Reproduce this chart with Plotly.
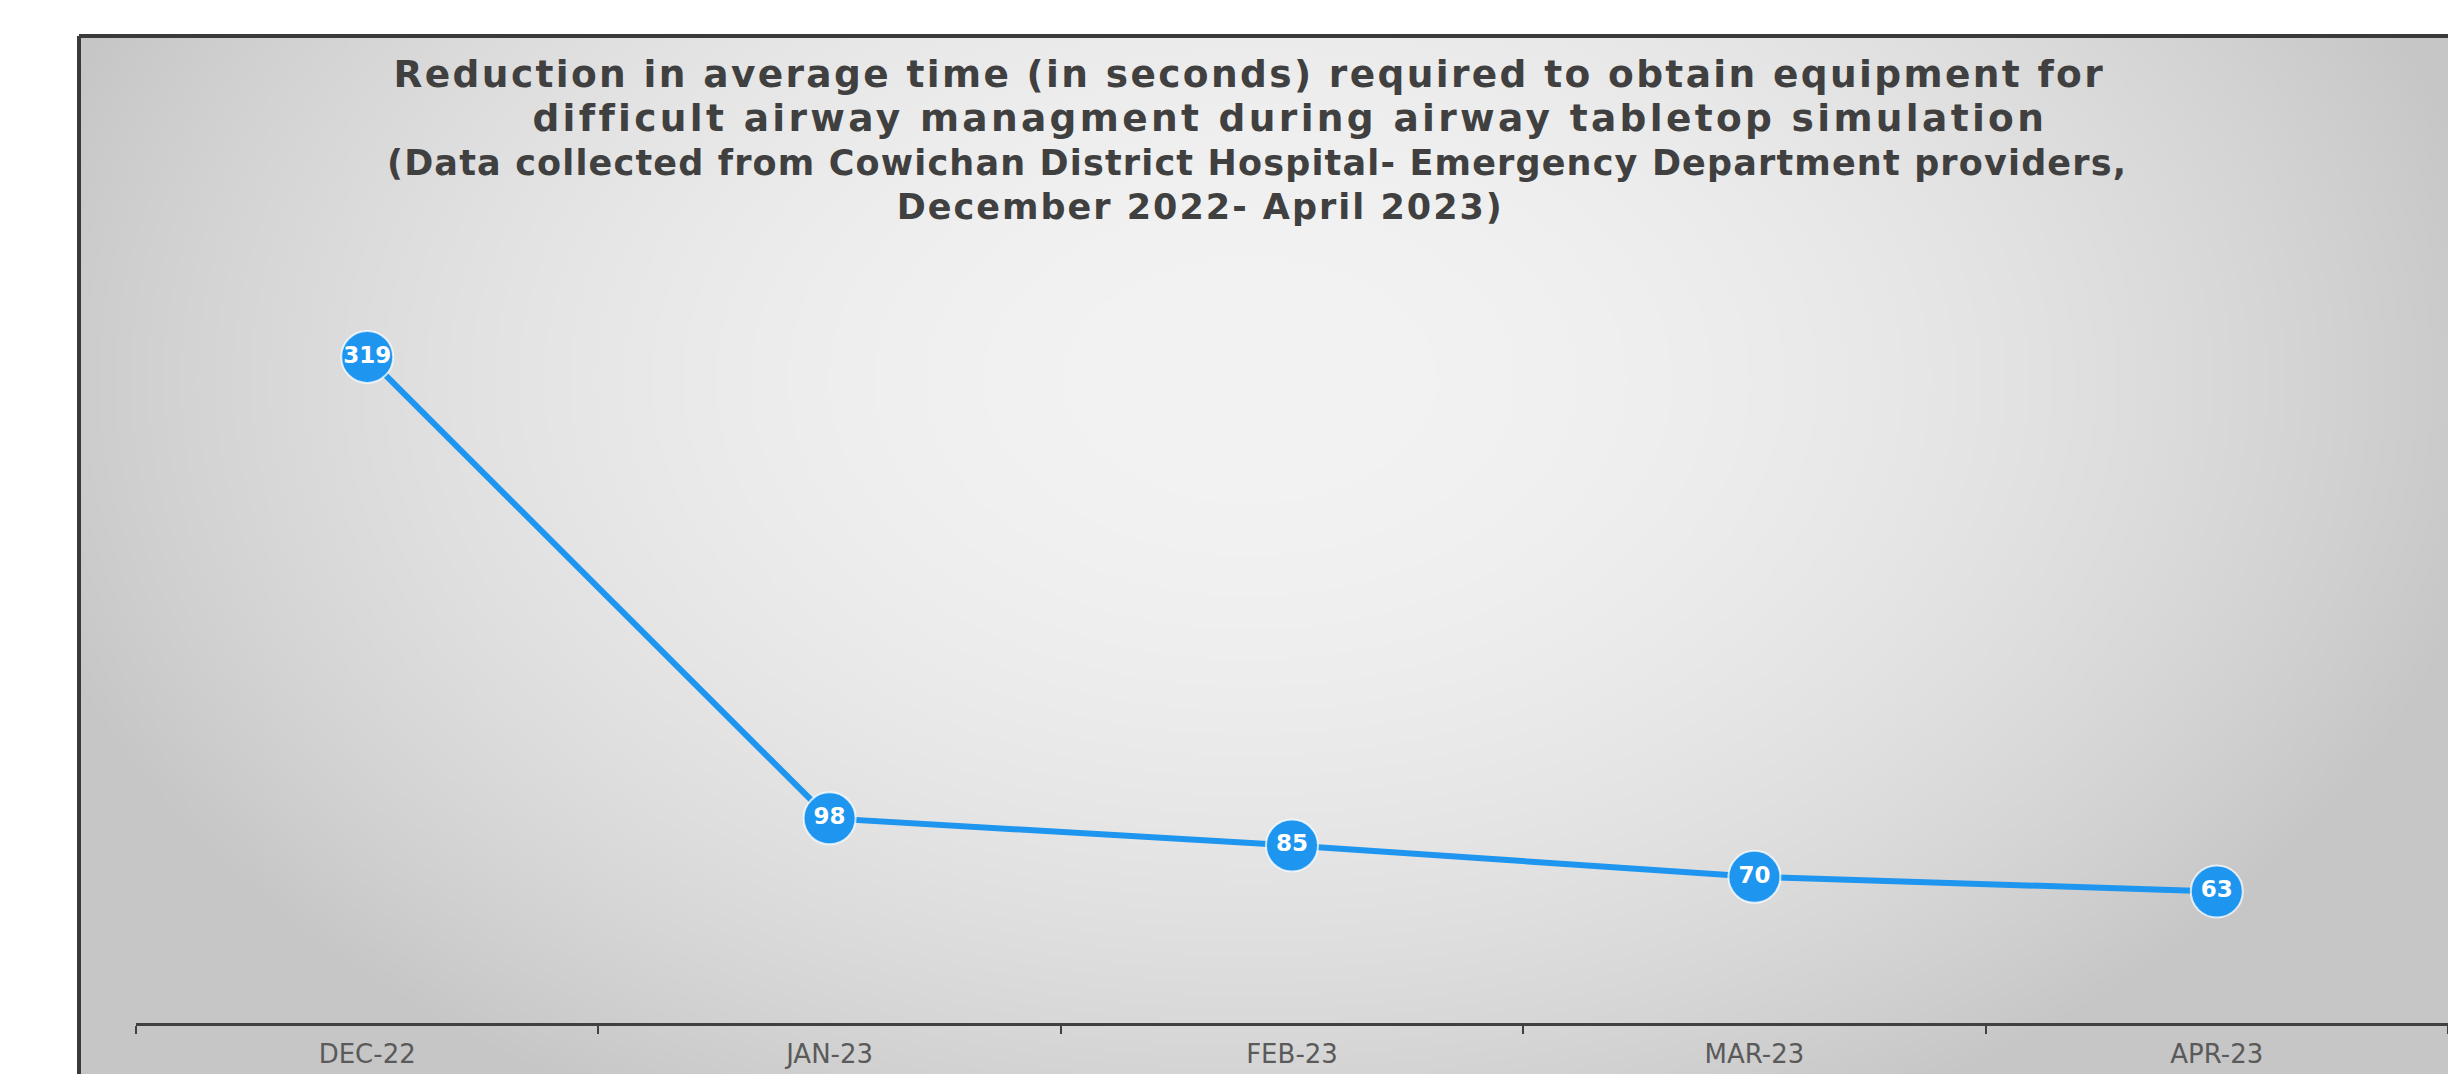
import base64
import struct
import zlib

import numpy as np
import plotly.graph_objects as go

# ---------------- data ----------------
months = ["DEC-22", "JAN-23", "FEB-23", "MAR-23", "APR-23"]
avg_seconds = [319, 98, 85, 70, 63]
title_lines = [
    "Reduction in average time (in seconds) required to obtain equipment for",
    "difficult airway managment during airway tabletop simulation",
    "(Data collected from Cowichan District Hospital- Emergency Department providers,",
    "December 2022- April 2023)",
]

# ---------------- geometry ----------------
W, H = 2448, 1074
L, R, T, B = 136, 0, 288, 51
pw, ph = W - L - R, H - T - B


def px_x(px):
    return (px - L) / pw


def px_y(py):
    return (H - B - py) / ph


# ---------------- gradient background (radial grey) ----------------
def png_data_uri(arr):
    h, w, _ = arr.shape
    raw = b"".join(b"\x00" + arr[i].tobytes() for i in range(h))

    def chunk(t, d):
        c = struct.pack(">I", len(d)) + t + d
        return c + struct.pack(">I", zlib.crc32(t + d) & 0xFFFFFFFF)

    png = (b"\x89PNG\r\n\x1a\n"
           + chunk(b"IHDR", struct.pack(">IIBBBBB", w, h, 8, 2, 0, 0, 0))
           + chunk(b"IDAT", zlib.compress(raw, 9))
           + chunk(b"IEND", b""))
    return "data:image/png;base64," + base64.b64encode(png).decode()


fx0, fy0 = 79, 36
nw, nh = 600, 260
xs = np.linspace(fx0, W, nw)
ys = np.linspace(fy0, H, nh)
X, Y = np.meshgrid(xs, ys)
r2 = ((X - 1250) / 1200) ** 2 + ((Y - 380) / 800) ** 2
g = np.clip(243 - 40 * r2, 198, 255).astype(np.uint8)
img = np.ascontiguousarray(np.stack([g, g, g], axis=-1))
bg_uri = png_data_uri(img)

# ---------------- figure ----------------
blue = "#1E95EF"
fig = go.Figure()
fig.add_trace(go.Scatter(
    x=months,
    y=avg_seconds,
    mode="lines+markers+text",
    text=[str(v) for v in avg_seconds],
    textposition="middle center",
    textfont=dict(family="DejaVu Sans", size=23, color="white", weight="bold"),
    line=dict(color=blue, width=6),
    marker=dict(size=52, color=blue, line=dict(color="rgba(255,255,255,0.75)", width=2)),
    cliponaxis=False,
    hoverinfo="skip",
    showlegend=False,
))

# title: one multi-line block; per-line font size, letter spacing and small offsets
NB = "&nbsp;"
line_sizes = [37.5, 37.5, 35, 35]
line_ls = [2.36, 3.33, 1.16, 2.0]
lead = [0, 4, 0, 0]
trail = [1, 0, 0, 8]
parts = []
for txt, fs, ls, a, b in zip(title_lines, line_sizes, line_ls, lead, trail):
    parts.append(
        f'<span style="font-size:{fs}px;letter-spacing:{ls}px">{NB * a}{txt}{NB * b}</span>'
    )
title_text = "<br>".join(parts)

annotations = [dict(
    text=title_text, xref="paper", yref="paper", x=px_x(1257), y=px_y(140),
    xanchor="center", yanchor="middle", showarrow=False, align="center",
    font=dict(family="DejaVu Sans", size=33.85, color="#404040", weight="bold"),
)]

shapes = [
    dict(type="line", xref="paper", yref="paper",
         x0=px_x(fx0), x1=px_x(W + 10), y0=px_y(fy0), y1=px_y(fy0),
         line=dict(color="#3a3a3a", width=4)),
    dict(type="line", xref="paper", yref="paper",
         x0=px_x(fx0), x1=px_x(fx0), y0=px_y(fy0), y1=px_y(H + 10),
         line=dict(color="#3a3a3a", width=4)),
]

fig.update_layout(
    width=W, height=H,
    margin=dict(l=L, r=R, t=T, b=B, pad=0),
    paper_bgcolor="white",
    plot_bgcolor="rgba(0,0,0,0)",
    images=[dict(source=bg_uri, xref="paper", yref="paper",
                 x=px_x(fx0), y=px_y(fy0),
                 sizex=(W - fx0) / pw, sizey=(H - fy0) / ph,
                 xanchor="left", yanchor="top", sizing="stretch", layer="below")],
    shapes=shapes,
    annotations=annotations,
    xaxis=dict(
        type="category", range=[-0.5, 4.5], showgrid=False, zeroline=False,
        showline=True, linecolor="#404040", linewidth=3,
        ticks="outside", tickson="boundaries", ticklen=8, tickwidth=2, tickcolor="#404040",
        ticklabelstandoff=6,
        tickfont=dict(family="DejaVu Sans", size=26, color="#5a5a5a"),
        fixedrange=True,
    ),
    yaxis=dict(range=[0, 352], visible=False, fixedrange=True),
)

fig.write_html("out.html")
